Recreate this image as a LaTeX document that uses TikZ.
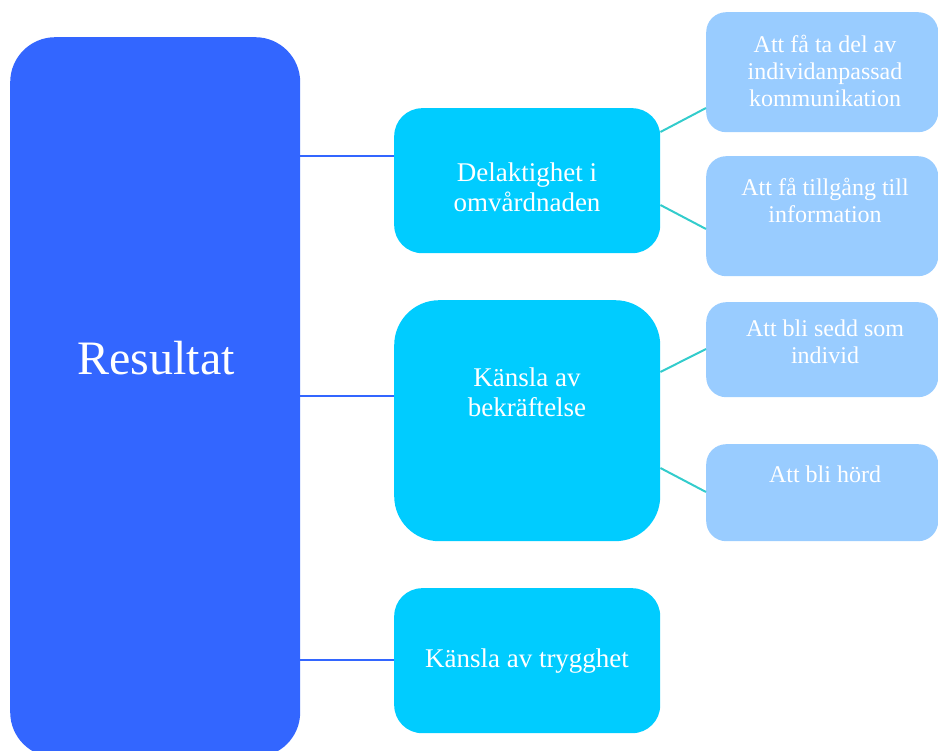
\documentclass[tikz,border=0pt]{standalone}
\usepackage{fontspec}
\setmainfont{Liberation Serif}
\definecolor{bigblue}{HTML}{3366FF}
\definecolor{midcyan}{HTML}{00CCFF}
\definecolor{lightblue}{HTML}{99CCFF}
\definecolor{teal2}{HTML}{33CCCC}
\begin{document}
\begin{tikzpicture}[x=1pt,y=-1pt,
  bigbox/.style={fill=bigblue,draw=none,rounded corners=45pt},
  midbox/.style={fill=midcyan,draw=none,rounded corners=28pt},
  rightbox/.style={fill=lightblue,draw=none,rounded corners=20pt},
  bigtxt/.style={text=white,font=\fontsize{48}{52}\selectfont,inner sep=0pt},
  midtxt/.style={text=white,font=\fontsize{27}{30}\selectfont,align=center,inner sep=0pt},
  righttxt/.style={text=white,font=\fontsize{24}{27}\selectfont,align=center,inner sep=0pt},
  blueline/.style={draw=bigblue,line width=2pt},
  tealline/.style={draw=teal2,line width=2pt}]
\useasboundingbox (0,0) rectangle (938,751);
% shapes
\node[bigbox,minimum width=290pt,minimum height=720pt,anchor=north west] (big) at (10,37) {};
\node[midbox,minimum width=266pt,minimum height=145pt,anchor=north west] (m1) at (394,108) {};
\node[midbox,rounded corners=45pt,minimum width=266pt,minimum height=241pt,anchor=north west] (m2) at (394,300) {};
\node[midbox,minimum width=266pt,minimum height=145pt,anchor=north west] (m3) at (394,588) {};
\node[rightbox,minimum width=232pt,minimum height=120pt,anchor=north west] (r1) at (706,12) {};
\node[rightbox,minimum width=232pt,minimum height=120pt,anchor=north west] (r2) at (706,156) {};
\node[rightbox,minimum width=232pt,minimum height=95pt,anchor=north west] (r3) at (706,302) {};
\node[rightbox,minimum width=232pt,minimum height=97pt,anchor=north west] (r4) at (706,444) {};
% texts
\node[bigtxt] (tbig) at (156,358) {Resultat};
\node[midtxt] (t1) at (527,187) {Delaktighet i\\omvårdnaden};
\node[midtxt] (t2) at (527,392) {Känsla av\\bekräftelse};
\node[midtxt] (t3) at (527,661) {Känsla av trygghet};
\node[righttxt] (tr1) at (825,71) {Att få ta del av\\individanpassad\\kommunikation};
\node[righttxt] (tr2) at (825,200) {Att få tillgång till\\information};
\node[righttxt] (tr3) at (825,342) {Att bli sedd som\\individ};
\node[righttxt] (tr4) at (825,474) {Att bli hörd};
% connector coordinates
\coordinate (b1) at (big.east |- 0,156);
\coordinate (b2) at (big.east |- 0,396);
\coordinate (b3) at (big.east |- 0,660);
\coordinate (e1) at (m1.west |- 0,156);
\coordinate (e2) at (m2.west |- 0,396);
\coordinate (e3) at (m3.west |- 0,660);
\draw[blueline] (b1) -- (e1);
\draw[blueline] (b2) -- (e2);
\draw[blueline] (b3) -- (e3);
\coordinate (s1) at (m1.east |- 0,132);
\coordinate (s2) at (m1.east |- 0,205);
\coordinate (s3) at (m2.east |- 0,372);
\coordinate (s4) at (m2.east |- 0,468);
\coordinate (d1) at (r1.west |- 0,108);
\coordinate (d2) at (r2.west |- 0,229);
\coordinate (d3) at (r3.west |- 0,349);
\coordinate (d4) at (r4.west |- 0,492);
\draw[tealline] (s1) -- (d1);
\draw[tealline] (s2) -- (d2);
\draw[tealline] (s3) -- (d3);
\draw[tealline] (s4) -- (d4);
\end{tikzpicture}
\end{document}
